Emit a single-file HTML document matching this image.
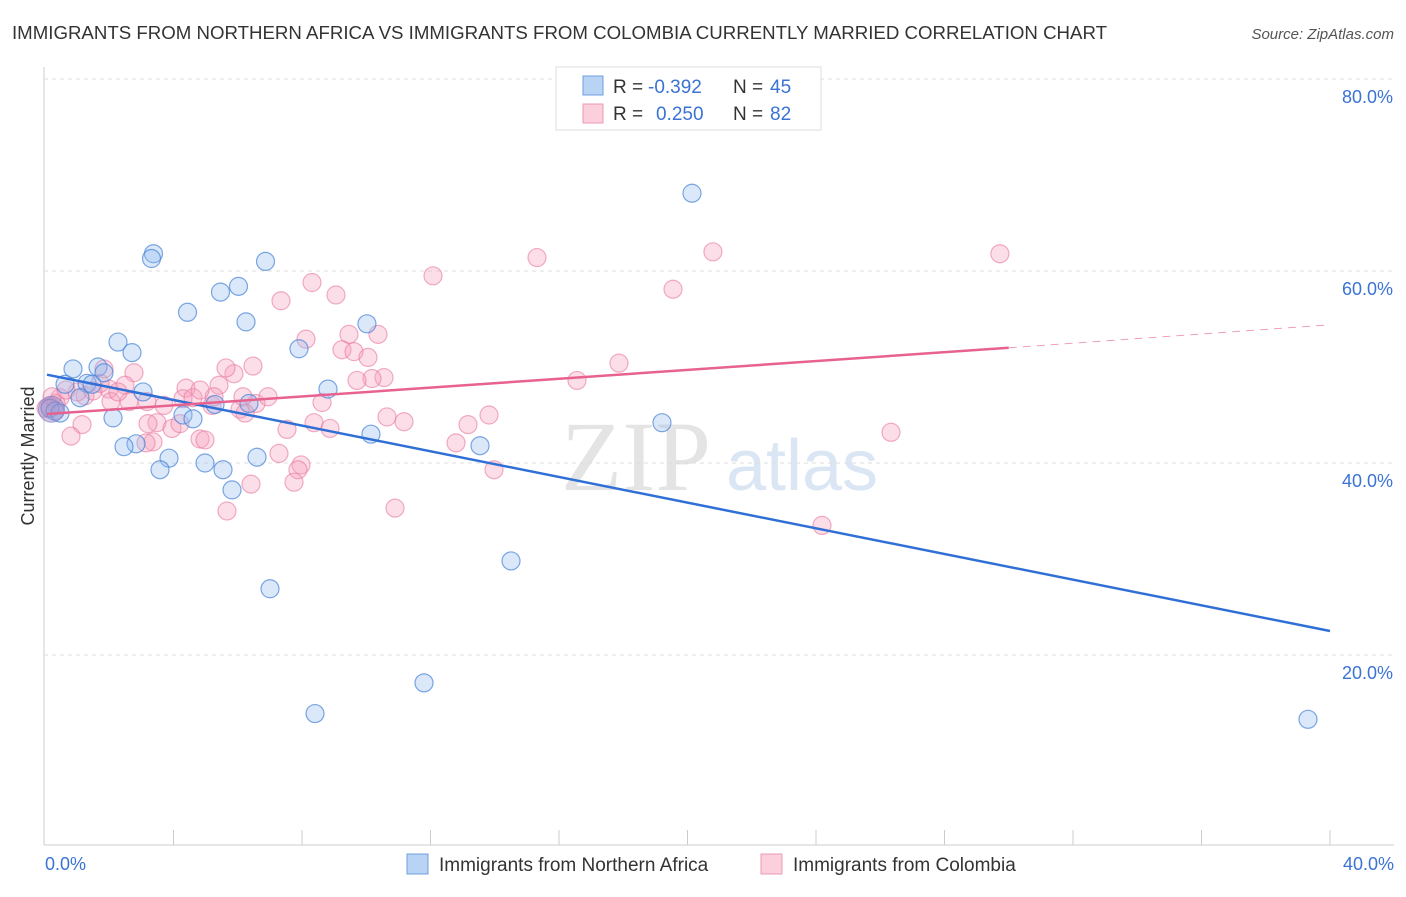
<!DOCTYPE html>
<html><head><meta charset="utf-8"><style>
body{margin:0;background:#fff;font-family:"Liberation Sans",sans-serif}
</style></head><body>
<svg id="c" width="1406" height="892" xmlns="http://www.w3.org/2000/svg" font-family="Liberation Sans, sans-serif">
<text x="12" y="39" font-size="18" fill="#333" textLength="1095" lengthAdjust="spacingAndGlyphs">IMMIGRANTS FROM NORTHERN AFRICA VS IMMIGRANTS FROM COLOMBIA CURRENTLY MARRIED CORRELATION CHART</text>
<text x="1394" y="39" font-size="15" fill="#555" text-anchor="end" font-style="italic">Source: ZipAtlas.com</text>
<text x="636" y="490" font-size="100" fill="#e4e4e4" font-family="Liberation Serif, serif" text-anchor="middle">ZIP</text>
<text x="802" y="490" font-size="72" fill="#dbe6f4" text-anchor="middle">atlas</text>
<g id="grid"></g><g id="pts"></g><g id="lines"></g>
<text x="34" y="456" font-size="18" fill="#333" text-anchor="middle" transform="rotate(-90 34 456)">Currently Married</text>
<text x="45" y="870" font-size="18" fill="#3b73d4">0.0%</text>
<text x="1394" y="870" font-size="18" fill="#3b73d4" text-anchor="end">40.0%</text>
<g>
<rect x="556" y="67" width="265" height="63" fill="#fff" stroke="#ddd"/>
<rect x="583" y="76" width="20" height="19" fill="#b9d3f5" stroke="#6c9fe0"/>
<rect x="583" y="104" width="20" height="19" fill="#fbcfdc" stroke="#ee9ab5"/>
<text x="613" y="93" font-size="19" fill="#333">R =</text>
<text x="648" y="93" font-size="19" fill="#3b73d4">-0.392</text>
<text x="733" y="93" font-size="19" fill="#333">N =</text>
<text x="770" y="93" font-size="19" fill="#3b73d4">45</text>
<text x="613" y="120" font-size="19" fill="#333">R =</text>
<text x="656" y="120" font-size="19" fill="#3b73d4">0.250</text>
<text x="733" y="120" font-size="19" fill="#333">N =</text>
<text x="770" y="120" font-size="19" fill="#3b73d4">82</text>
</g>
<g>
<rect x="407" y="854" width="21" height="20" fill="#b9d3f5" stroke="#6c9fe0"/>
<text x="439" y="871" font-size="19" fill="#333">Immigrants from Northern Africa</text>
<rect x="761" y="854" width="21" height="20" fill="#fbcfdc" stroke="#ee9ab5"/>
<text x="793" y="871" font-size="19" fill="#333">Immigrants from Colombia</text>
</g>
</svg>
<script>
const yTicks=[20,40,60,80];
const yTickLabels=["20.0%","40.0%","60.0%","80.0%"];
const xTicks=[4,8,12,16,20,24,28,32,36,40];
const blueX=[3.377,3.315,6.864,6.023,5.463,4.436,6.257,10.021,2.272,2.708,7.906,0.872,1.650,1.837,0.623,1.308,1.463,3.051,8.809,1.089,4.296,4.607,2.117,5.292,6.350,0.156,0.311,0.467,2.833,2.459,3.860,4.981,6.599,5.541,3.580,10.146,13.541,19.206,5.821,14.506,7.004,11.798,8.405,20.140,39.315];
const blueY=[61.8,61.3,61.0,58.4,57.8,55.7,54.7,54.5,52.6,51.5,51.9,49.8,50.0,49.4,48.2,48.3,48.2,47.4,47.7,46.8,45.0,44.6,44.7,46.1,46.2,45.7,45.4,45.2,42.0,41.7,40.5,40.0,40.6,39.3,39.3,43.0,41.8,44.2,37.2,29.8,26.9,17.1,13.9,68.1,13.3];
const pinkX=[20.791,29.724,15.315,12.078,8.311,19.549,7.346,9.058,9.463,10.366,8.125,9.245,9.619,10.054,17.868,6.474,5.883,16.560,10.553,10.179,9.712,1.837,2.770,5.416,4.389,1.992,2.490,1.245,0.467,0.342,0.156,1.004,1.494,2.054,2.615,3.175,3.704,4.296,4.607,5.198,6.070,6.568,6.942,6.163,8.623,5.261,3.486,3.206,3.953,4.202,1.152,0.809,4.825,4.981,3.362,3.144,7.533,8.374,8.872,10.646,11.175,13.821,13.167,12.794,7.284,7.969,7.875,7.751,6.412,5.665,10.895,13.977,26.335,24.187,0.031,0.218,0.654,1.712,2.272,4.825,5.634,6.226];
const pinkY=[62.0,61.8,61.4,59.5,58.8,58.1,56.9,57.5,53.4,53.4,52.9,51.8,51.6,51.0,50.4,50.1,49.3,48.6,48.9,48.8,48.6,49.8,49.4,48.1,47.8,47.7,48.1,47.0,46.8,46.2,45.9,47.4,47.5,46.4,46.4,46.4,46.0,46.7,46.8,46.0,45.6,46.2,46.9,46.9,46.3,46.9,44.2,44.1,43.6,44.1,44.0,42.8,42.5,42.4,42.2,42.1,43.5,44.2,43.6,44.8,44.3,45.0,44.0,42.1,41.0,39.8,39.3,38.0,37.8,35.0,35.3,39.3,43.2,33.5,45.7,46.9,47.6,48.3,47.4,47.6,49.9,45.2];
const blueTrend=[[0.062,49.2],[40,22.5]];
const pinkTrend=[[0.062,45.1],[30,52.0]];
const pinkTrendDash=[[30,52.0],[40,54.4]];
const NS="http://www.w3.org/2000/svg";
const X=v=>45+v/40*1285, Y=v=>847-v/20*192;
function mk(t,a,p){const e=document.createElementNS(NS,t);for(const k in a)e.setAttribute(k,a[k]);document.getElementById(p).appendChild(e);return e;}
mk('line',{x1:44,y1:67,x2:44,y2:845,stroke:'#ccc'},'grid');
mk('line',{x1:44,y1:845,x2:1394,y2:845,stroke:'#ccc'},'grid');
mk('line',{x1:44,y1:Y(80),x2:1394,y2:Y(80),stroke:'#ddd','stroke-dasharray':'4,4'},'grid');
yTicks.forEach((t,i)=>{
 const g=mk('line',{x1:44,y1:Y(t),x2:1394,y2:Y(t),stroke:'#ddd','stroke-dasharray':'4,4'},'grid');
 
 
 const tx=mk('text',{x:1393,y:Y(t)+24,'font-size':18,fill:'#3b73d4','text-anchor':'end'},'grid');
 tx.textContent=yTickLabels[i];
 
 
});
xTicks.forEach(t=>{
 const l=mk('line',{x1:X(t),y1:830,x2:X(t),y2:845,stroke:'#ccc'},'grid');
 
 
});
pinkX.forEach((v,i)=>{
 const c=mk('circle',{cx:X(v),cy:Y(pinkY[i]),r:9,fill:'rgba(245,160,188,0.35)',stroke:'rgba(232,120,160,0.6)','stroke-width':1.2},'pts');
 
 
});
blueX.forEach((v,i)=>{
 const c=mk('circle',{cx:X(v),cy:Y(blueY[i]),r:9,fill:'rgba(150,190,240,0.35)',stroke:'rgba(70,130,215,0.7)','stroke-width':1.2},'pts');
 
 
});
const big=mk('circle',{cx:X(0.2),cy:Y(45.6),r:13,fill:'rgba(160,140,200,0.5)',stroke:'rgba(120,120,200,0.6)'},'pts');


function line(p,col,name,dash){
 const l=mk('line',{x1:X(p[0][0]),y1:Y(p[0][1]),x2:X(p[1][0]),y2:Y(p[1][1]),stroke:col,'stroke-width':dash?1:2.5},'lines');
 if(dash)l.setAttribute('stroke-dasharray','8,6');
 
 
}
line(blueTrend,'#2f6fd6','northern-africa-trendline');
line(pinkTrend,'#e8628f','colombia-trendline');
line(pinkTrendDash,'#eea0b8','colombia-trendline-extension',true);
</script>
</body></html>
